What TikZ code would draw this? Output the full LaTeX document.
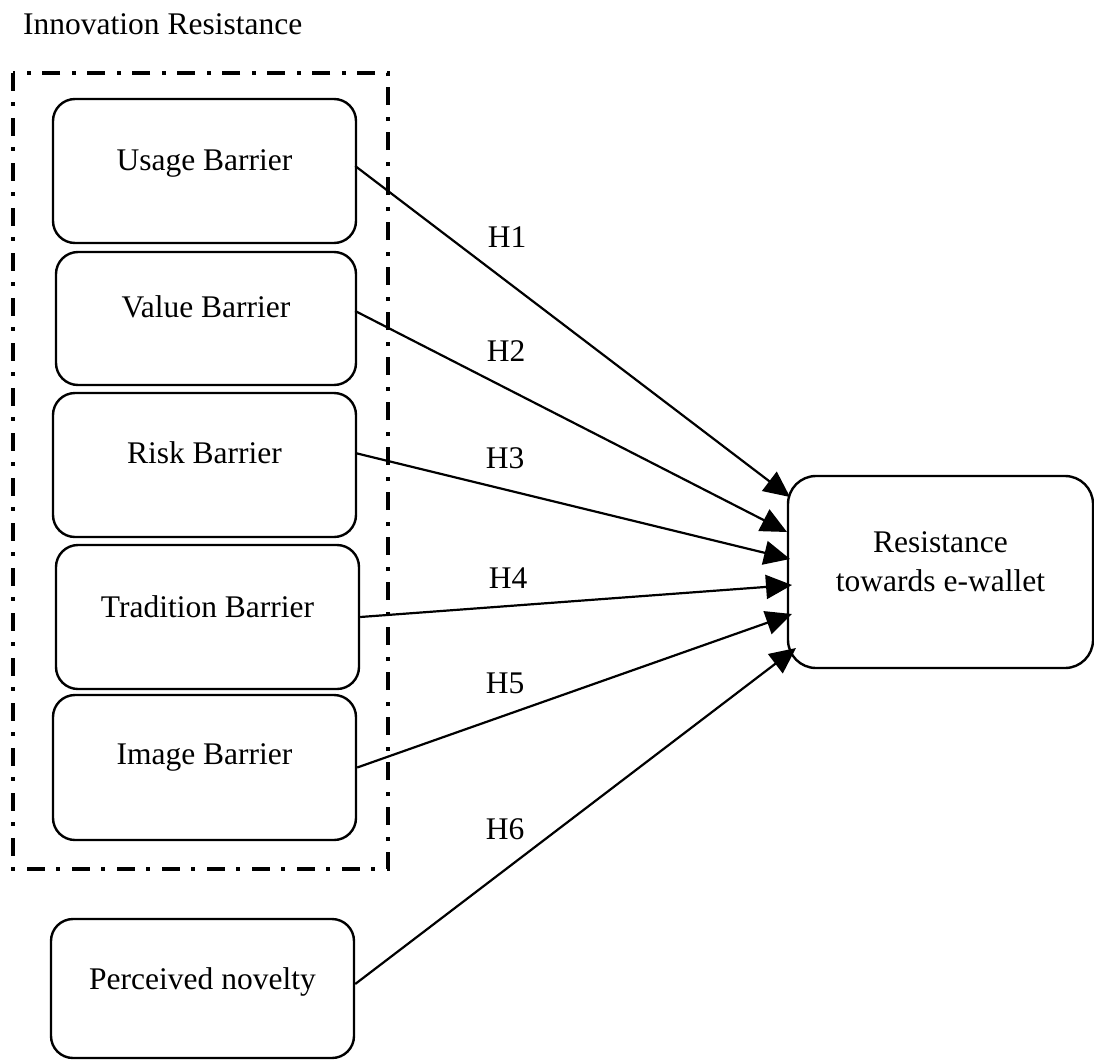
\documentclass[tikz,border=0pt]{standalone}
\usepackage{fontspec}
\setmainfont{Liberation Serif}
\usetikzlibrary{arrows.meta,calc}
\begin{document}
\begin{tikzpicture}[x=1pt,y=-1pt,
  every node/.style={font=\fontsize{31.5}{39}\selectfont},
  boxn/.style={draw,line width=2.4pt,rounded corners=22pt,inner sep=0pt},
  lbl/.style={inner sep=0pt,align=center},
  arr/.style={line width=2.2pt,-{Triangle[length=26pt,width=24pt]}},
  grp/.style={draw,line width=4.2pt,dash pattern=on 18pt off 11pt on 4pt off 12pt}]
\useasboundingbox (0,0) rectangle (1094,1060);
% title
\node[lbl,anchor=west] (title) at (23,24) {Innovation Resistance};
% group frame
\draw[grp] (13,73) rectangle (388,869);
% boxes
\node[boxn,minimum width=303pt,minimum height=144pt] (u) at (204.5,171) {};
\node[lbl] (ut) at (204.5,163) {Usage Barrier};
\node[boxn,minimum width=300pt,minimum height=133pt] (v) at (206,318.5) {};
\node[lbl] (vt) at (206,307) {Value Barrier};
\node[boxn,minimum width=303pt,minimum height=144pt] (k) at (204.5,465) {};
\node[lbl] (kt) at (204.5,453) {Risk Barrier};
\node[boxn,minimum width=303pt,minimum height=144pt] (t) at (207.5,617) {};
\node[lbl] (tt) at (207.5,607) {Tradition Barrier};
\node[boxn,minimum width=303pt,minimum height=145pt] (m) at (204.5,767.5) {};
\node[lbl] (mt) at (204.5,757) {Image Barrier};
\node[boxn,minimum width=303pt,minimum height=139pt] (p) at (202.5,988.5) {};
\node[lbl] (pt) at (202.5,982) {Perceived novelty};
\node[boxn,rounded corners=28pt,minimum width=305pt,minimum height=192pt] (r) at (940.5,572) {};
\node[lbl] (rt) at (940.5,562) {Resistance\\towards e-wallet};
% arrow end points
\coordinate (e1) at (790,497);
\coordinate (e2) at (787,532);
\coordinate (e3) at (790,559);
\coordinate (e4) at (792,585);
\coordinate (e5) at (792,614);
\coordinate (e6) at (796,648);
% connectors
\draw[arr] ($(u.east)+(-2,-5)$) -- (e1);
\draw[arr] ($(v.east)+(-2,-7.5)$) -- (e2);
\draw[arr] ($(k.east)+(-2,-12)$) -- (e3);
\draw[arr] (t.east) -- (e4);
\draw[arr] (m.east) -- (e5);
\draw[arr] ($(p.east)+(0,-4.5)$) -- (e6);
% labels
\node[lbl] (h1) at (507,237) {H1};
\node[lbl] (h2) at (506,351) {H2};
\node[lbl] (h3) at (505,458) {H3};
\node[lbl] (h4) at (508,578) {H4};
\node[lbl] (h5) at (505,683) {H5};
\node[lbl] (h6) at (505,829) {H6};
\end{tikzpicture}
\end{document}
